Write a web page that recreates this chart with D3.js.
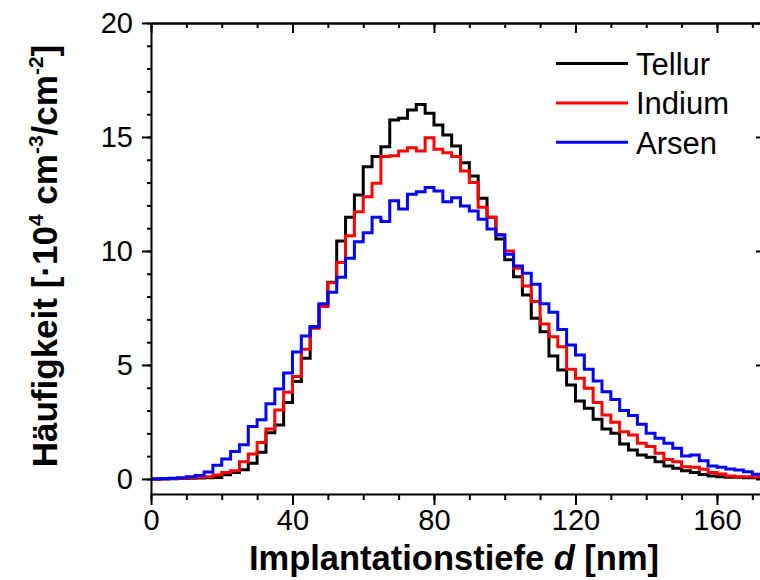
<!DOCTYPE html>
<html>
<head>
<meta charset="utf-8">
<script src="https://cdn.jsdelivr.net/npm/d3@7/dist/d3.min.js"></script>
<style>
  html, body { margin: 0; padding: 0; background: #fff; }
  svg { display: block; }
  text { font-family: "Liberation Sans", Arial, sans-serif; fill: #000; }
</style>
</head>
<body>
<svg id="chart" width="760" height="580"></svg>
<script>
// ---- data ----
const depth = [0,2.5,5,7.5,10,12.5,15,17.5,20,22.5,25,27.5,30,32.5,35,37.5,40,42.5,45,47.5,
  50,52.5,55,57.5,60,62.5,65,67.5,70,72.5,75,77.5,80,82.5,85,87.5,90,92.5,95,97.5,
  100,102.5,105,107.5,110,112.5,115,117.5,120,122.5,125,127.5,130,132.5,135,137.5,140,142.5,145,147.5,
  150,152.5,155,157.5,160,162.5,165,167.5,170];
const binWidth = 2.5;
const tellur = [0.00,0.00,0.01,0.02,0.03,0.04,0.05,0.06,0.18,0.28,0.40,0.69,1.17,2.03,2.37,3.35,4.27,5.29,6.68,7.63,
  8.63,10.44,11.48,12.46,13.70,14.14,14.57,15.75,15.82,16.18,16.43,16.04,15.53,15.09,14.60,13.87,13.29,12.31,11.48,10.52,
  9.62,8.87,8.07,7.05,6.46,5.39,4.78,4.12,3.42,3.10,2.62,2.19,2.00,1.53,1.27,1.05,0.95,0.76,0.57,0.47,
  0.36,0.28,0.20,0.13,0.10,0.07,0.07,0.05,0.05];
const indium = [0.00,0.01,0.02,0.03,0.05,0.07,0.10,0.17,0.28,0.36,0.76,1.10,1.60,2.19,3.03,3.80,4.49,5.69,6.61,7.56,
  8.61,9.49,10.67,11.72,12.38,12.97,14.14,14.18,14.39,14.53,14.39,14.97,14.46,14.31,14.14,13.51,13.00,11.92,11.48,10.72,
  10.00,9.24,8.46,7.78,6.80,6.24,5.80,4.81,4.42,3.98,3.35,2.81,2.49,2.07,1.93,1.57,1.42,1.13,0.85,0.76,
  0.54,0.51,0.43,0.28,0.22,0.13,0.10,0.10,0.09];
const arsen = [0.00,0.02,0.03,0.05,0.10,0.15,0.30,0.60,0.87,1.20,1.50,2.30,2.60,3.30,3.95,4.65,5.57,6.27,6.68,7.68,
  8.19,8.85,9.68,10.41,10.80,11.48,11.29,12.20,11.84,12.49,12.60,12.78,12.63,12.16,12.34,11.97,11.75,11.39,10.96,10.70,
  9.86,9.34,9.02,8.54,7.68,7.31,6.56,5.88,5.44,4.81,4.30,3.83,3.48,3.00,2.78,2.40,2.00,1.78,1.57,1.35,
  1.01,1.05,0.80,0.57,0.51,0.44,0.39,0.32,0.21];
const seriesNames = ["Tellur", "Indium", "Arsen"];
const seriesColors = ["#000000", "#ff0000", "#0000ff"];
const xTicks = [0, 40, 80, 120, 160];
const yTicks = [0, 5, 10, 15, 20];
const xLabel = "Implantationstiefe ";
const yLabel = "Häufigkeit [·10";

// ---- layout ----
const svg = d3.select("#chart");
const L = 151, R = 764, T = 23, B = 494;
const x = d3.scaleLinear().domain([0, 173.3]).range([L, R]);
const y = d3.scaleLinear().domain([-0.66, 20]).range([B, T]);

// ---- series ----
const line = d3.line().x(d => x(d[0])).y(d => y(d[1])).curve(d3.curveStepAfter);
[tellur, indium, arsen].forEach((vals, i) => {
  const pts = vals.map((v, k) => [depth[k], v]);
  pts.push([depth[depth.length - 1] + binWidth, vals[vals.length - 1]]);
  svg.append("path").datum(pts)
    .attr("d", line)
    .attr("fill", "none")
    .attr("stroke", seriesColors[i])
    .attr("stroke-width", 3)
    .attr("stroke-linejoin", "miter");
});

// ---- axes ----
const xMinor = d3.range(0, 173, 10);
const yMinor = d3.range(0, 21, 1);
function styleAxis(g) {
  g.selectAll("path.domain").attr("stroke", "#000").attr("stroke-width", 2);
  g.selectAll(".tick line").attr("stroke", "#000").attr("stroke-width", 2);
}
// bottom
svg.append("g").attr("transform", `translate(0,${B})`)
  .call(d3.axisBottom(x).tickValues(xMinor).tickSize(6).tickSizeOuter(0).tickFormat(""))
  .call(styleAxis);
const gxb = svg.append("g").attr("transform", `translate(0,${B})`)
  .call(d3.axisBottom(x).tickValues(xTicks).tickSize(11).tickSizeOuter(0))
  .call(styleAxis);
gxb.select("path.domain").remove();
gxb.selectAll(".tick text").attr("font-size", 29).attr("font-family", "Liberation Sans, Arial, sans-serif")
  .attr("dy", "0.71em").attr("y", 15);
// top
svg.append("g").attr("transform", `translate(0,${T})`)
  .call(d3.axisTop(x).tickValues(xMinor).tickSize(-5).tickSizeOuter(0).tickFormat(""))
  .call(styleAxis);
svg.append("g").attr("transform", `translate(0,${T})`)
  .call(d3.axisTop(x).tickValues(xTicks).tickSize(-10).tickSizeOuter(0).tickFormat(""))
  .call(styleAxis);
// left
svg.append("g").attr("transform", `translate(${L},0)`)
  .call(d3.axisLeft(y).tickValues(yMinor).tickSize(4).tickSizeOuter(0).tickFormat(""))
  .call(styleAxis);
const gyl = svg.append("g").attr("transform", `translate(${L},0)`)
  .call(d3.axisLeft(y).tickValues(yTicks).tickSize(9).tickSizeOuter(0).tickPadding(9))
  .call(styleAxis);
gyl.select("path.domain").remove();
gyl.selectAll(".tick text").attr("font-size", 29).attr("font-family", "Liberation Sans, Arial, sans-serif");
// right
svg.append("g").attr("transform", `translate(${R},0)`)
  .call(d3.axisRight(y).tickValues(yMinor).tickSize(-4).tickSizeOuter(0).tickFormat(""))
  .call(styleAxis);
svg.append("g").attr("transform", `translate(${R},0)`)
  .call(d3.axisRight(y).tickValues(yTicks).tickSize(-8).tickSizeOuter(0).tickFormat(""))
  .call(styleAxis);

// ---- axis titles ----
const xt = svg.append("text").attr("x", 454).attr("y", 570).attr("text-anchor", "middle")
  .attr("font-size", 34.5).attr("font-weight", "bold");
xt.append("tspan").text(xLabel);
xt.append("tspan").attr("font-style", "italic").text("d");
xt.append("tspan").text(" [nm]");

const yt = svg.append("text").attr("transform", "translate(57,256) rotate(-90)")
  .attr("text-anchor", "middle").attr("font-size", 35).attr("font-weight", "bold");
yt.append("tspan").text(yLabel);
yt.append("tspan").attr("font-size", 21).attr("dy", -14).text("4");
yt.append("tspan").attr("dy", 14).text(" cm");
yt.append("tspan").attr("font-size", 21).attr("dy", -14).text("-3");
yt.append("tspan").attr("dy", 14).text("/cm");
yt.append("tspan").attr("font-size", 21).attr("dy", -14).text("-2");
yt.append("tspan").attr("dy", 14).text("]");

// ---- legend ----
const lg = svg.append("g");
seriesNames.forEach((name, i) => {
  const cy = 63.5 + i * 39.4;
  lg.append("line").attr("x1", 556).attr("x2", 628).attr("y1", cy).attr("y2", cy)
    .attr("stroke", seriesColors[i]).attr("stroke-width", 3);
  lg.append("text").attr("x", 636).attr("y", cy + 11.5).attr("font-size", 31).text(name);
});
</script>
</body>
</html>
